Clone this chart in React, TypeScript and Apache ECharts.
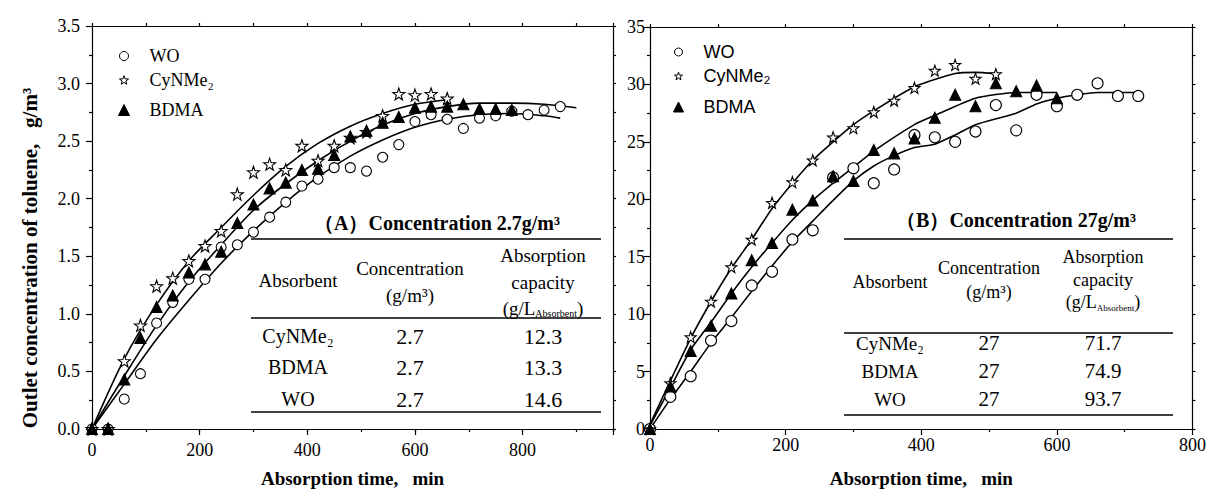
import React, { useEffect, useRef } from "react";
import * as echarts from "echarts";

const SERIF = "'Liberation Serif', 'Times New Roman', serif";
const SANS = "'Liberation Sans', Arial, sans-serif";

// ---------- Panel A (2.7 g/m3) ----------
const timeA = [0, 30, 60, 90, 120, 150, 180, 210, 240, 270, 300, 330, 360, 390, 420, 450, 480, 510, 540, 570, 600, 630, 660, 690, 720, 750, 780, 810, 840, 870];
const woA = [0, 0, 0.26, 0.48, 0.92, 1.1, 1.3, 1.3, 1.58, 1.6, 1.71, 1.84, 1.97, 2.11, 2.17, 2.27, 2.27, 2.24, 2.36, 2.47, 2.67, 2.73, 2.69, 2.61, 2.7, 2.72, 2.76, 2.73, 2.77, 2.8];
const bdmaA = [0, 0, 0.43, 0.79, 1.06, 1.16, 1.36, 1.43, 1.54, 1.79, 1.95, 2.09, 2.14, 2.25, 2.26, 2.38, 2.54, 2.59, 2.66, 2.71, 2.79, 2.8, 2.8, 2.82, 2.78, 2.78, 2.77];
const cyA = [0, 0, 0.59, 0.9, 1.24, 1.31, 1.46, 1.59, 1.72, 2.04, 2.23, 2.3, 2.25, 2.46, 2.33, 2.46, 2.53, 2.58, 2.72, 2.91, 2.9, 2.91, 2.87];

const fitCyAX = [0, 60, 120, 180, 240, 300, 360, 420, 480, 540, 600, 660];
const fitCyAY = [0, 0.61, 1.08, 1.46, 1.75, 2.03, 2.28, 2.48, 2.63, 2.74, 2.82, 2.86];
const fitBdmaAX = [0, 60, 120, 180, 240, 300, 360, 420, 480, 540, 600, 660, 720, 780, 840, 900];
const fitBdmaAY = [0, 0.46, 0.9, 1.28, 1.6, 1.9, 2.13, 2.33, 2.5, 2.64, 2.74, 2.8, 2.83, 2.83, 2.82, 2.79];
const fitWoAX = [0, 60, 120, 180, 240, 300, 360, 420, 480, 540, 600, 660, 720, 780, 840, 870];
const fitWoAY = [0, 0.39, 0.78, 1.12, 1.44, 1.72, 1.97, 2.19, 2.37, 2.51, 2.62, 2.69, 2.73, 2.74, 2.72, 2.7];

// ---------- Panel B (27 g/m3) ----------
const timeB = [0, 30, 60, 90, 120, 150, 180, 210, 240, 270, 300, 330, 360, 390, 420, 450, 480, 510, 540, 570, 600, 630, 660, 690, 720];
const woB = [0, 2.8, 4.6, 7.7, 9.4, 12.5, 13.7, 16.5, 17.3, 21.9, 22.7, 21.4, 22.6, 25.6, 25.4, 25.0, 25.9, 28.2, 26.0, 29.1, 28.1, 29.1, 30.1, 29.0, 29.0];
const bdmaB = [0, 3.7, 6.8, 9.0, 11.8, 14.7, 16.2, 19.1, 19.9, 22.0, 21.6, 24.3, 24.0, 25.3, 27.1, 29.1, 28.1, 30.1, 29.4, 29.9, 28.8];
const cyB = [0, 4.0, 8.0, 11.1, 14.1, 16.5, 19.7, 21.5, 23.4, 25.4, 26.2, 27.6, 28.6, 29.7, 31.2, 31.7, 30.5, 30.9];

const fitCyBX = [0, 30, 60, 90, 120, 150, 180, 210, 240, 270, 300, 330, 390, 450, 480, 510];
const fitCyBY = [0.4, 4.2, 7.9, 11.1, 14.0, 16.5, 19.2, 21.4, 23.4, 25.0, 26.5, 27.7, 29.8, 30.95, 31.05, 30.95];
const fitBdmaBX = [0, 30, 60, 90, 120, 150, 180, 210, 240, 270, 300, 330, 390, 420, 480, 540, 600];
const fitBdmaBY = [0.3, 3.6, 6.9, 9.3, 11.8, 14.1, 16.2, 18.2, 19.9, 21.4, 22.8, 24.2, 26.5, 27.3, 28.8, 29.3, 29.3];
const fitWoBX = [0, 30, 60, 90, 120, 150, 180, 210, 240, 270, 300, 330, 360, 390, 420, 450, 480, 540, 570, 600, 630, 660, 720];
const fitWoBY = [0, 2.6, 5.0, 7.5, 9.7, 12.0, 14.2, 16.3, 18.1, 19.9, 21.6, 22.9, 23.8, 24.5, 24.8, 25.6, 26.5, 27.5, 28.3, 28.8, 29.1, 29.3, 29.3];

// ---------- Tables ----------
const absorbents = ["CyNMe₂", "BDMA", "WO"];
const concA = ["2.7", "2.7", "2.7"];
const capA = ["12.3", "13.3", "14.6"];
const concB = ["27", "27", "27"];
const capB = ["71.7", "74.9", "93.7"];

const NAMES = ["WO", "CyNMe₂", "BDMA"];
const STAR = "path://M0,-10L2.35,-3.24L9.51,-3.09L3.8,1.24L5.88,8.09L0,4L-5.88,8.09L-3.8,1.24L-9.51,-3.09L-2.35,-3.24Z";

const zip = (xs: number[], ys: number[]) => ys.map((y, i) => [xs[i], y]);
const symbolOf = (kind: number) => (kind === 0 ? "circle" : kind === 1 ? STAR : "triangle");

function fitLine(name: string, xs: number[], ys: number[], xi: number, yi: number, smooth: number) {
  return {
    type: "line", name, xAxisIndex: xi, yAxisIndex: yi, data: zip(xs, ys),
    showSymbol: false, symbol: "none", smooth,
    lineStyle: { color: "#000", width: 1.6 }, z: 2, silent: true,
  };
}

function scat(kind: number, xs: number[], ys: number[], xi: number, yi: number, size: number) {
  const fill = kind === 2 ? "#000" : "#fff";
  return {
    type: "scatter", name: NAMES[kind], xAxisIndex: xi, yAxisIndex: yi, data: zip(xs, ys),
    symbol: symbolOf(kind), symbolSize: kind === 2 ? size + 1 : kind === 1 ? size + 2 : size,
    itemStyle: { color: fill, borderColor: "#000", borderWidth: 1.1, opacity: 1 },
    z: 3 + kind, silent: true,
  };
}

function legendItem(kind: number, left: number, top: number, size: number, family: string, pad: number) {
  return {
    data: [{ name: NAMES[kind], icon: symbolOf(kind) }], left, top, orient: "horizontal", padding: 0,
    itemWidth: size, itemHeight: size, selectedMode: false,
    itemStyle: { color: kind === 2 ? "#000" : "#fff", borderColor: "#000", borderWidth: 1 },
    textStyle: { fontFamily: family, fontSize: 18, color: "#000", padding: [0, 0, 0, pad] },
  };
}

function txt(x: number, y: number, text: string, size: number, bold = false, extra: any = {}) {
  return {
    type: "text", x, y, silent: true, ...extra,
    style: {
      text, font: `${bold ? "bold " : ""}${size}px ${SERIF}`, fill: "#000",
      align: "center", verticalAlign: "middle",
    },
  };
}

function richSub(x: number, y: number, size: number, sub: number) {
  return {
    type: "text", x, y, silent: true,
    style: {
      text: "{a|(g/L}{s|Absorbent}{a|)}", fill: "#000", align: "center", verticalAlign: "middle",
      rich: {
        a: { fontFamily: SERIF, fontSize: size, lineHeight: size + 2, fill: "#000" },
        s: { fontFamily: SERIF, fontSize: sub, verticalAlign: "bottom", fill: "#000" },
      },
    },
  };
}

function hline(x1: number, x2: number, y: number) {
  return { type: "line", silent: true, shape: { x1, y1: y, x2, y2: y }, style: { stroke: "#000", lineWidth: 1.3 } };
}

const axisColor = { color: "#000", width: 1.2 };

function mainX(grid: number, max: number, margin: number) {
  return {
    type: "value", gridIndex: grid, position: "bottom", min: 0, max, interval: 200,
    axisLine: { show: true, onZero: false, lineStyle: axisColor },
    axisTick: { show: true, inside: false, length: 6, lineStyle: axisColor },
    minorTick: { show: grid === 1, splitNumber: 2, length: 3, lineStyle: axisColor },
    axisLabel: {
      show: true, margin, color: "#000", fontFamily: SERIF, fontSize: 18,
      formatter: (v: number) => (v % 200 === 0 ? String(v) : ""),
    },
    splitLine: { show: false },
    name: "Absorption time,\u00a0\u00a0 min", nameLocation: "middle", nameGap: 40,
    nameTextStyle: { fontFamily: SERIF, fontWeight: "bold", fontSize: 19, color: "#000" },
  };
}

function sideAxis(grid: number, position: string, min: number, max: number, interval: number, showLine: boolean) {
  return {
    type: "value", gridIndex: grid, position, min, max, interval,
    axisLine: { show: showLine, onZero: false, lineStyle: axisColor },
    axisTick: { show: true, inside: false, length: 3, lineStyle: axisColor },
    axisLabel: { show: false }, splitLine: { show: false },
  };
}

function mainY(grid: number, max: number, interval: number, margin: number, digits: number) {
  return {
    type: "value", gridIndex: grid, position: "left", min: 0, max, interval,
    axisLine: { show: true, onZero: false, lineStyle: axisColor },
    axisTick: { show: true, inside: false, length: 6, lineStyle: axisColor },
    minorTick: { show: true, splitNumber: 2, length: 3, lineStyle: axisColor },
    axisLabel: {
      show: true, margin, color: "#000", fontFamily: SERIF, fontSize: 18,
      formatter: (v: number) => v.toFixed(digits),
    },
    splitLine: { show: false },
  };
}

export default function App() {
  const ref = useRef<HTMLDivElement>(null);
  useEffect(() => {
    if (!ref.current) return;
    const chart = echarts.init(ref.current, undefined, { renderer: "svg" });
    const maxA = 968;
    const option: any = {
      animation: false,
      backgroundColor: "#fff",
      grid: [
        { left: 92, top: 26, width: 521, height: 403 },
        { left: 650, top: 27, width: 545, height: 402 },
      ],
      xAxis: [
        mainX(0, maxA, 12),
        sideAxis(0, "bottom", 0, maxA, 100, false),
        sideAxis(0, "top", 0, maxA, 100, true),
        mainX(1, 800, 7),
        sideAxis(1, "top", 0, 800, 100, true),
      ],
      yAxis: [
        mainY(0, 3.5, 0.5, 12, 1),
        sideAxis(0, "right", 0, 3.5, 0.25, true),
        mainY(1, 35, 5, 5, 0),
        sideAxis(1, "right", 0, 35, 2.5, true),
      ],
      legend: [
        legendItem(0, 119, 47, 9, SERIF, 16),
        legendItem(1, 119, 71, 9, SERIF, 16),
        legendItem(2, 118, 101, 11, SERIF, 15),
        legendItem(0, 674, 43, 8, SANS, 16),
        legendItem(1, 674, 67, 8, SANS, 16),
        legendItem(2, 673, 98, 10, SANS, 15),
      ],
      series: [
        fitLine("fitCyA", fitCyAX, fitCyAY, 0, 0, 0.3),
        fitLine("fitBdmaA", fitBdmaAX, fitBdmaAY, 0, 0, 0.3),
        fitLine("fitWoA", fitWoAX, fitWoAY, 0, 0, 0.3),
        scat(0, timeA, woA, 0, 0, 10),
        scat(1, timeA, cyA, 0, 0, 10),
        scat(2, timeA, bdmaA, 0, 0, 10),
        fitLine("fitCyB", fitCyBX, fitCyBY, 3, 2, 0.2),
        fitLine("fitBdmaB", fitBdmaBX, fitBdmaBY, 3, 2, 0.2),
        fitLine("fitWoB", fitWoBX, fitWoBY, 3, 2, 0.2),
        scat(0, timeB, woB, 3, 2, 11),
        scat(1, timeB, cyB, 3, 2, 9),
        scat(2, timeB, bdmaB, 3, 2, 10),
      ],
      graphic: [
        // y axis title
        txt(30, 258, "Outlet concentration of toluene,\u00a0\u00a0 g/m³", 21, true, { rotation: Math.PI / 2 }),
        // Table A
        txt(437, 223, "（A）Concentration 2.7g/m³", 20, true),
        hline(251, 601, 239), hline(251, 601, 318), hline(251, 601, 412),
        txt(298, 280, "Absorbent", 19),
        txt(410, 268, "Concentration", 19),
        txt(410, 295, "(g/m³)", 19),
        txt(543, 255, "Absorption", 19),
        txt(543, 282, "capacity", 19),
        richSub(543, 308, 19, 10),
        ...absorbents.map((n, i) => txt(298, [336, 367, 399][i], n, 20)),
        ...concA.map((v, i) => txt(410, [336, 367, 399][i], v, 22)),
        ...capA.map((v, i) => txt(543, [336, 367, 399][i], v, 22)),
        // Table B
        txt(1016, 220, "（B）Concentration 27g/m³", 20, true),
        hline(844, 1173, 239), hline(844, 1173, 333), hline(844, 1173, 415),
        txt(890, 282, "Absorbent", 18),
        txt(989, 268, "Concentration", 18),
        txt(989, 292, "(g/m³)", 18),
        txt(1103, 257, "Absorption", 18),
        txt(1103, 280, "capacity", 18),
        richSub(1103, 302, 18, 9),
        ...absorbents.map((n, i) => txt(890, [343, 371, 399][i], n, 19)),
        ...concB.map((v, i) => txt(989, [343, 371, 399][i], v, 21)),
        ...capB.map((v, i) => txt(1103, [343, 371, 399][i], v, 21)),
      ],
    };
    chart.setOption(option);
    return () => chart.dispose();
  }, []);
  return (
    <div
      ref={ref}
      style={{ position: "absolute", left: 0, top: 0, width: 1209, height: 494, background: "#fff" }}
    />
  );
}
